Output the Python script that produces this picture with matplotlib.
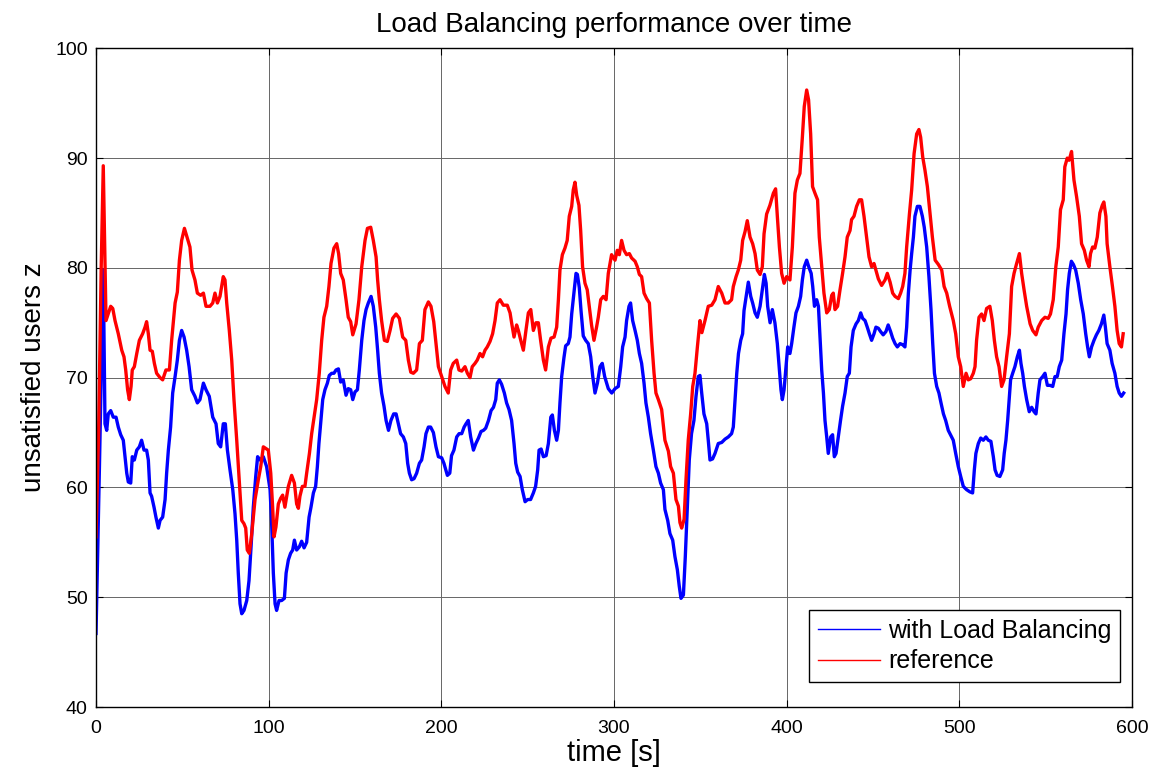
import matplotlib.pyplot as plt
from matplotlib.lines import Line2D

# Valores (tiempo en s, usuarios insatisfechos z)
t_lb = [0, 2, 4.2, 5.2, 6.2, 7.1, 8.5, 10, 11.6, 12.9, 14.3, 15.8, 16.8, 17.8, 18.7, 20.1,
        21, 22.2, 23.6, 25.1, 26.4, 27.8, 29.3, 30.3, 31.3, 32.2, 33.6, 34.7, 36.1, 37.1,
        38.6, 40, 40.9, 41.9, 43.2, 44.4, 45.8, 47.1, 48.3, 49.6, 51, 52.5, 53.9, 55.4,
        57.3, 58.7, 60.2, 62.2, 63.7, 65.6, 67.6, 69.5, 70.8, 72.2, 73.7, 74.9, 76.1,
        77.6, 79.2, 80.5, 81.5, 82.4, 83.4, 84.4, 85.7, 87.3, 88.6, 89.8, 91.1, 92.5,
        93.6, 95, 96.9, 98.8, 100.8, 101.7, 102.7, 103.7, 104.6, 106, 107.5, 109.1,
        110.1, 111.4, 112.7, 113.9, 114.9, 116.2, 117.8, 119.1, 120.5, 122, 123.4,
        124.5, 125.9, 127.2, 128.2, 129.1, 130.1, 131.3, 132.6, 134, 135.1, 136.5,
        137.8, 139, 140.4, 141.7, 143.2, 144.8, 146.1, 147.5, 148.7, 150, 151.4, 152.5,
        153.9, 155.2, 156.4, 157.7, 159.3, 160.6, 162, 163.1, 164.1, 165.4, 166.8, 168,
        169.4, 170.8, 172.4, 173.8, 175.1, 176.4, 178, 179.4, 180.5, 181.5, 182.8,
        184.2, 185.7, 187.3, 188.6, 190, 191.1, 192.5, 193.8, 195.4, 196.9, 198.3,
        200.2, 201.5, 203.5, 204.9, 205.9, 207.3, 208.9, 210.3, 211.8, 213.2, 214.3,
        215.6, 217, 218.6, 220, 221.5, 223, 224.4, 225.7, 227.3, 228.8, 230.2, 231.5,
        232.4, 233.6, 234.9, 236.5, 237.8, 239.2, 240.7, 242.1, 243.1, 244.2, 245.6,
        246.9, 248.5, 250, 251.7, 253.3, 254.6, 255.8, 256.6, 257.8, 259.1, 260.7, 262,
        263.4, 264.3, 265.5, 266.8, 267.8, 268.7, 269.7, 271, 272, 273.5, 274.5, 275.5,
        276.9, 278, 278.8, 279.9, 280.9, 282.2, 283.6, 285.1, 286.5, 287.7, 289, 290.4,
        291.9, 293.2, 294.6, 296.7, 298.7, 300.6, 302.5, 303.9, 305, 306.4, 307.3,
        308.7, 309.6, 310.8, 312.2, 313.5, 314.7, 316, 317.4, 318.5, 319.9, 321.2,
        322.8, 324.3, 325.7, 327, 328.6, 329.5, 331.1, 332.4, 334, 335.3, 336.7, 337.8,
        338.8, 340.2, 341.3, 342.5, 343.6, 344.9, 346.3, 347.5, 348.8, 349.8, 350.8,
        352.1, 353.7, 354.6, 355.6, 357.1, 358.5, 360.4, 362.4, 364.3, 366.2, 368.1,
        369.1, 370.1, 371.1, 372.1, 373.4, 374.5, 375.3, 376.8, 377.8, 379.2, 380.3,
        381.7, 383, 384.6, 385.9, 387.1, 388.1, 389, 390.4, 391.7, 393.2, 394.6, 395.8,
        396.7, 397.5, 398.5, 399.6, 400.6, 401.9, 402.9, 404.2, 405.4, 406.8, 408.1,
        409.1, 410.2, 411.6, 413, 414.2, 415.1, 416.1, 417.4, 418.4, 419.3, 420.3,
        421.3, 422.2, 423.2, 424.1, 425.5, 426.6, 427.6, 428.6, 429.9, 431.2, 432.4,
        433.8, 435.1, 436.3, 437.3, 438.6, 440.2, 441.5, 442.9, 444, 445.4, 446.7,
        447.9, 449.2, 450.6, 451.7, 453.1, 454.4, 455.9, 457.5, 458.8, 460.2, 461.4,
        462.8, 464.1, 465.7, 467.2, 468.5, 469.5, 470.5, 471.5, 472.4, 473.4, 474.3,
        475.7, 477.2, 478.6, 479.7, 481.1, 482.4, 483.6, 484.6, 485.6, 486.9, 488.2,
        489.4, 490.8, 492.1, 493.6, 494.9, 496.5, 497.9, 499.4, 500.8, 502.3, 504.2,
        506.1, 507.7, 508.7, 509.6, 511, 512.4, 513.9, 515.4, 516.8, 518.3, 519.7,
        520.7, 521.9, 523.5, 525.1, 526, 527, 528, 528.9, 529.7, 530.9, 532.2, 533.6,
        534.8, 535.7, 536.7, 537.7, 539, 540.5, 541.9, 543.3, 544.4, 545.7, 546.7,
        548.3, 549.6, 551, 552.5, 554.1, 555.4, 556.7, 557.9, 559.3, 560.6, 561.8,
        562.7, 563.7, 564.9, 566.1, 567.4, 568.9, 570.3, 571.8, 573.2, 574.3, 575.3,
        576.6, 578, 579.4, 580.8, 582.3, 583.7, 584.6, 585.6, 587.2, 588.5, 590.1,
        591.4, 592.6, 593.9, 595.2]
z_lb = [46.7, 62, 79.8, 65.8, 65.2, 66.7, 67.0, 66.4, 66.4, 65.5, 64.8, 64.3, 62.8, 61.3,
        60.5, 60.4, 62.8, 62.5, 63.4, 63.7, 64.3, 63.4, 63.4, 62.5, 59.5, 59.2, 58.2,
        57.3, 56.3, 57.0, 57.3, 58.9, 61.3, 63.4, 65.5, 68.6, 70.1, 71.6, 73.4, 74.3,
        73.7, 72.5, 71.0, 68.9, 68.3, 67.7, 68.0, 69.5, 68.9, 68.3, 66.4, 65.8, 64.0,
        63.7, 65.8, 65.8, 63.4, 61.6, 59.8, 57.6, 55.2, 52.2, 49.4, 48.5, 48.8, 49.7,
        51.5, 54.6, 58.2, 61.0, 62.8, 62.5, 62.8, 61.9, 59.8, 56.8, 52.2, 49.4, 48.8,
        49.7, 49.7, 49.9, 52.2, 53.4, 54.0, 54.3, 55.2, 54.3, 54.6, 55.1, 54.5, 55.0,
        57.3, 58.2, 59.5, 60.1, 61.9, 64.0, 65.8, 68.0, 68.9, 69.5, 70.2, 70.4, 70.4,
        70.7, 70.8, 69.6, 69.8, 68.4, 69.0, 68.9, 68.0, 68.7, 68.9, 70.7, 73.4, 75.2,
        76.2, 76.8, 77.4, 76.5, 74.6, 72.5, 70.4, 68.6, 67.4, 66.1, 65.2, 66.1, 66.7,
        66.7, 65.8, 64.9, 64.6, 64.0, 62.2, 61.3, 60.7, 60.8, 61.3, 62.2, 62.5, 63.7,
        64.9, 65.5, 65.5, 65.0, 63.7, 62.8, 62.7, 62.2, 61.1, 61.3, 62.9, 63.4, 64.6,
        64.9, 64.9, 65.5, 65.8, 66.1, 64.6, 63.4, 64.0, 64.5, 65.1, 65.2, 65.4, 66.1,
        67.0, 67.3, 68.0, 69.5, 69.8, 69.4, 68.6, 67.7, 67.1, 66.1, 64.0, 62.2, 61.4,
        61.0, 59.8, 58.7, 58.9, 58.9, 59.5, 60.1, 61.6, 63.4, 63.5, 62.8, 62.9, 64.0,
        66.4, 66.6, 65.2, 64.3, 65.2, 67.7, 70.1, 71.8, 72.9, 73.1, 73.7, 75.8, 77.9,
        79.5, 79.4, 78.2, 76.1, 73.8, 73.4, 73.1, 71.9, 70.1, 68.6, 69.5, 71.0, 71.3,
        70.1, 69.0, 68.6, 69.0, 69.2, 71.0, 72.8, 73.7, 75.2, 76.5, 76.8, 75.2, 74.3,
        73.4, 72.2, 71.3, 69.5, 67.7, 66.4, 64.9, 63.4, 61.9, 61.3, 60.4, 59.8, 58.0,
        57.0, 55.8, 55.2, 53.7, 52.5, 51.0, 49.9, 50.2, 53.7, 58.2, 62.5, 64.9, 66.1,
        68.3, 70.1, 70.2, 68.6, 66.7, 65.8, 64.3, 62.5, 62.6, 63.1, 64.0, 64.1, 64.4,
        64.6, 64.9, 65.5, 67.9, 70.4, 72.2, 73.4, 74.0, 76.1, 77.7, 78.7, 77.4, 76.8,
        75.9, 75.5, 76.5, 78.0, 79.4, 78.6, 76.5, 75.0, 76.2, 75.0, 73.1, 70.7, 68.9,
        68.0, 68.9, 71.0, 72.8, 72.2, 73.1, 74.6, 75.9, 76.5, 77.4, 78.9, 80.1, 80.7,
        80.0, 79.5, 78.3, 76.5, 77.1, 76.5, 73.7, 70.7, 68.6, 66.1, 64.6, 63.1, 64.6,
        64.8, 62.8, 63.1, 64.6, 66.1, 67.4, 68.6, 70.1, 70.4, 72.8, 74.3, 74.9, 75.2,
        75.9, 75.4, 75.2, 74.6, 74.0, 73.4, 74.0, 74.6, 74.5, 74.2, 73.9, 74.2, 74.8,
        74.2, 73.6, 73.1, 72.8, 73.1, 73.0, 72.8, 74.6, 77.7, 79.8, 81.3, 82.8, 84.7,
        85.6, 85.6, 84.7, 83.7, 81.9, 79.2, 76.2, 73.1, 70.4, 69.2, 68.6, 67.7, 66.7,
        66.1, 65.2, 64.8, 64.3, 63.1, 61.9, 61.0, 60.1, 59.8, 59.6, 59.5, 61.6, 63.1,
        64.0, 64.5, 64.3, 64.6, 64.3, 64.2, 62.8, 61.6, 61.1, 61.0, 61.6, 63.1, 64.3,
        66.1, 68.0, 69.8, 70.4, 71.0, 71.9, 72.5, 71.3, 70.4, 69.2, 68.0, 66.9, 67.3,
        66.9, 66.7, 68.6, 69.8, 70.1, 70.4, 69.3, 69.3, 69.2, 70.1, 70.1, 71.0, 71.6,
        74.0, 75.8, 78.0, 79.5, 80.6, 80.3, 79.8, 78.6, 77.1, 75.8, 74.0, 72.8, 71.9,
        72.8, 73.4, 73.9, 74.3, 74.9, 75.7, 74.6, 73.1, 72.5, 71.3, 70.4, 69.2, 68.6,
        68.3, 68.6]

t_ref = [0, 1.5, 3, 4.2, 5.8, 8.5, 9.7, 11, 12.9, 14.9, 16.2, 17.2, 18.3, 19.3, 20.3, 21,
         22.2, 23.6, 25.1, 27, 28.4, 29.3, 30.3, 31.3, 32.6, 33.8, 35.1, 37.1, 38.6,
         40.5, 42.5, 43.8, 45.8, 47.1, 48.3, 49.6, 51.2, 52.9, 54.4, 55.6, 57.3, 58.7,
         60.6, 62.2, 63.7, 66, 67.6, 68.9, 70.3, 71.8, 73.7, 74.7, 75.7, 77.2, 78.6,
         79.9, 81.5, 82.8, 84.4, 85.7, 86.7, 87.6, 88.8, 90.2, 92.1, 94, 95.4, 96.9,
         99.8, 101.2, 102.3, 103.1, 104.2, 105.6, 106.9, 108.1, 109.4, 111.4, 113.3,
         114.9, 116.2, 117.2, 118.1, 119.5, 121, 122, 123.6, 124.9, 126.3, 127.8, 129.3,
         130.7, 132, 133.6, 134.9, 136.1, 137.8, 139.4, 140.5, 141.7, 143.2, 144.8,
         146.1, 147.5, 148.7, 150.6, 152.3, 153.9, 155.8, 157.2, 159.1, 160.6, 162.2,
         163.1, 164.1, 165.4, 167, 168.7, 170.3, 171.8, 173.8, 175.7, 177.6, 179.4,
         180.9, 182.3, 183.8, 185.7, 187.3, 189, 190.5, 192.5, 194, 195.6, 196.9, 198.3,
         200.2, 202.1, 204, 205.4, 206.9, 208.9, 210.2, 211.8, 213.7, 215.1, 216.6,
         217.9, 219.5, 220.8, 222.4, 223.9, 225.3, 226.6, 228.2, 229.7, 231.1, 232.4,
         234, 235.9, 238.2, 239.8, 240.7, 242.1, 243.6, 244.6, 246, 247.5, 249, 250.4,
         251.8, 253.3, 254.8, 256.2, 257.5, 259.1, 260.4, 262, 263.5, 265.3, 266.8,
         267.8, 268.7, 270.1, 271.6, 272.9, 274.1, 275.5, 276.4, 277.4, 278.4, 279.7,
         280.7, 281.8, 283.2, 284.5, 285.7, 287, 288.4, 289.9, 290.9, 292.3, 293.8,
         295.4, 296.7, 298.6, 300.6, 301.9, 303.1, 304.4, 305.8, 307.3, 308.9, 310.2,
         312.2, 313.5, 314.7, 316, 317.4, 318.9, 320.5, 321.8, 323.2, 324.3, 325.7,
         327.6, 329.5, 331.5, 332.8, 334.4, 335.9, 337.3, 338.2, 339.2, 340.6, 341.7,
         343, 344.4, 345.6, 346.9, 348.3, 349.8, 350.9, 352.7, 354.6, 356.6, 358.5,
         360.4, 362.4, 364.3, 366.2, 368.1, 369.1, 370.7, 372, 373.4, 374.5, 375.9,
         377.2, 378.8, 380.3, 381.7, 383, 384.6, 385.9, 386.9, 388.4, 390.3, 392.3,
         393.6, 394.6, 395.8, 397.1, 398.5, 400, 401.9, 403.3, 404.8, 406.2, 407.7,
         409.1, 410.2, 411.6, 412.7, 413.9, 415, 416.4, 417.9, 418.9, 420.3, 421.6,
         423.2, 424.7, 426.1, 427, 428, 429.5, 430.9, 432.4, 433.8, 435.1, 436.7, 437.6,
         439, 440.5, 442.1, 443.4, 444.8, 446.3, 447.7, 449.2, 450.6, 451.7, 453.1, 455,
         457, 458.3, 459.9, 461.4, 462.8, 464.7, 466, 467.2, 468.5, 469.5, 471.1, 472.4,
         473.8, 475.3, 476.6, 477.6, 478.8, 480.1, 481.5, 483.1, 484.4, 486, 487.9,
         489.8, 491.2, 492.7, 494.4, 496.5, 497.9, 499.4, 500.8, 502.3, 503.9, 505.2,
         506.6, 508.1, 509.1, 510, 511.4, 512.9, 514.3, 515.8, 517.7, 519.1, 520.3,
         521.6, 523, 524.5, 525.9, 527.4, 529, 530.3, 531.7, 533.2, 534.8, 536.1, 537.5,
         539, 541, 542.5, 544.4, 545.7, 547.7, 549.6, 551.5, 552.8, 554.4, 555.9, 557.3,
         558.6, 560.2, 561.1, 562.5, 563.6, 565, 566.4, 567.9, 569.5, 570.8, 572.4,
         573.7, 575.1, 576, 577.2, 578.5, 579.9, 581.4, 582.8, 583.7, 584.9, 585.6,
         587.2, 588.7, 590.1, 591.4, 592.6, 593.9, 594.9]
z_ref = [55.5, 65, 80, 89.3, 75.2, 76.5, 76.3, 75.2, 74.0, 72.5, 71.9, 70.7, 68.9, 68.0,
         69.2, 70.7, 71.0, 72.2, 73.4, 74.0, 74.6, 75.1, 74.0, 72.5, 72.4, 71.3, 70.4,
         70.0, 69.8, 70.7, 70.7, 73.4, 76.8, 77.8, 80.7, 82.5, 83.6, 82.7, 81.9, 79.8,
         78.9, 77.7, 77.5, 77.7, 76.5, 76.5, 76.8, 77.7, 76.8, 77.4, 79.2, 78.9, 76.8,
         74.3, 71.6, 68.0, 64.3, 61.0, 57.0, 56.7, 56.3, 54.3, 54.0, 55.8, 58.9, 60.7,
         61.9, 63.7, 63.4, 61.3, 58.2, 55.5, 56.4, 58.5, 59.0, 59.3, 58.2, 60.1, 61.1,
         60.4, 58.5, 58.1, 59.2, 60.1, 60.1, 61.3, 63.1, 64.9, 66.4, 68.0, 70.4, 73.4,
         75.5, 76.5, 78.3, 80.4, 81.8, 82.2, 81.3, 79.5, 78.9, 77.1, 75.5, 75.1, 73.9,
         74.9, 77.1, 80.1, 82.5, 83.6, 83.7, 82.5, 81.0, 78.9, 77.1, 75.2, 73.4, 73.3,
         74.3, 75.4, 75.8, 75.4, 73.7, 73.4, 71.6, 70.5, 70.4, 70.7, 73.1, 73.4, 76.2,
         76.9, 76.5, 75.1, 73.1, 71.0, 70.1, 69.2, 68.6, 70.7, 71.3, 71.6, 70.7, 70.6,
         71.0, 70.4, 70.0, 71.0, 71.3, 71.6, 72.2, 71.9, 72.5, 72.8, 73.3, 74.0, 75.2,
         76.8, 77.1, 76.6, 76.6, 75.9, 75.0, 73.7, 74.8, 74.3, 73.4, 72.5, 74.3, 75.9,
         76.2, 74.3, 75.0, 75.0, 73.4, 71.6, 70.7, 72.8, 73.6, 73.7, 74.6, 77.1, 79.8,
         81.2, 81.8, 82.5, 84.7, 85.6, 87.1, 87.8, 86.6, 85.7, 83.4, 80.1, 78.6, 78.0,
         76.5, 74.8, 73.4, 74.6, 75.5, 77.1, 77.4, 77.1, 79.5, 81.2, 80.7, 81.6, 81.2,
         82.5, 81.6, 81.2, 81.3, 80.9, 80.6, 80.1, 79.4, 79.2, 77.7, 77.2, 76.8, 73.4,
         70.4, 68.6, 68.0, 67.1, 64.3, 63.3, 61.9, 61.3, 58.9, 58.3, 56.8, 56.3, 57.1,
         60.7, 64.3, 66.7, 69.2, 70.4, 72.8, 75.2, 74.1, 75.2, 76.5, 76.6, 77.1, 78.3,
         77.7, 76.8, 76.8, 77.1, 78.3, 79.2, 79.8, 80.7, 82.5, 83.3, 84.3, 82.8, 82.2,
         81.3, 79.8, 79.4, 80.1, 83.1, 84.9, 85.7, 86.8, 87.2, 84.7, 81.9, 79.5, 78.6,
         79.2, 78.9, 81.9, 86.8, 88.0, 88.6, 91.9, 94.7, 96.2, 95.3, 92.2, 87.4, 86.8,
         86.2, 82.8, 80.1, 77.7, 75.9, 76.2, 77.5, 77.7, 76.2, 76.5, 78.0, 79.5, 81.0,
         82.8, 83.4, 84.4, 84.7, 85.6, 86.2, 86.2, 84.7, 82.8, 81.0, 80.1, 80.4, 79.8,
         79.0, 78.4, 78.9, 79.5, 78.7, 77.7, 77.4, 77.2, 77.7, 78.3, 79.5, 81.9, 84.9,
         87.1, 90.4, 92.2, 92.6, 91.9, 90.1, 88.9, 87.4, 84.9, 82.8, 80.7, 80.3, 79.8,
         78.3, 77.7, 76.5, 75.2, 74.0, 71.9, 71.0, 69.2, 70.4, 69.8, 69.9, 70.4, 71.0,
         73.4, 75.5, 75.8, 75.2, 76.3, 76.5, 75.2, 73.4, 71.9, 71.0, 69.2, 69.8, 71.9,
         74.0, 78.3, 79.5, 80.4, 81.3, 79.5, 78.0, 76.5, 74.9, 74.3, 73.9, 74.6, 75.2,
         75.5, 75.4, 75.8, 77.1, 80.1, 81.9, 85.3, 86.2, 89.2, 90.0, 89.8, 90.6, 88.0,
         86.5, 84.7, 82.2, 81.6, 80.7, 80.1, 81.3, 81.9, 81.8, 82.8, 85.0, 85.7, 86.0,
         84.7, 82.2, 80.1, 78.3, 76.5, 74.3, 73.1, 72.8, 74.0]

plt.rcParams['font.family'] = ['Liberation Sans', 'DejaVu Sans']

fig = plt.figure(figsize=(11.61, 7.75), dpi=100)
ax = fig.add_axes([0.0827, 0.0877, 0.8923, 0.85])

ax.plot(t_lb, z_lb, color='#0000FF', lw=2.4)
ax.plot(t_ref, z_ref, color='#FF0000', lw=2.4)

ax.set_xlim(0, 600)
ax.set_ylim(40, 100)
ax.set_xticks(range(0, 601, 100))
ax.set_yticks(range(40, 101, 10))
ax.grid(True, color='#666666', lw=0.7)
ax.tick_params(direction='in', top=True, right=True, labelsize=14, length=5)
ax.tick_params(axis='x', pad=9)
ax.tick_params(axis='y', pad=6)
for s in ax.spines.values():
    s.set_linewidth(1.0)

ax.set_title("Load Balancing performance over time", fontsize=20, pad=12)
ax.set_xlabel("time [s]", fontsize=21, labelpad=2)
ax.set_ylabel("unsatisfied users z", fontsize=20, labelpad=6)

# Leyenda con líneas finas como en el original
handles = [Line2D([], [], color='#0000FF', lw=1), Line2D([], [], color='#FF0000', lw=1)]
leg = ax.legend(handles, ["with Load Balancing", "reference"], loc='lower right',
                bbox_to_anchor=(0.9884, 0.038), borderaxespad=0, fontsize=18,
                fancybox=False, framealpha=1, edgecolor='black',
                handlelength=2.5, handletextpad=0.3, labelspacing=0.25, borderpad=0.35)
leg.get_frame().set_linewidth(1.0)

fig.savefig("out.png", dpi=100)
